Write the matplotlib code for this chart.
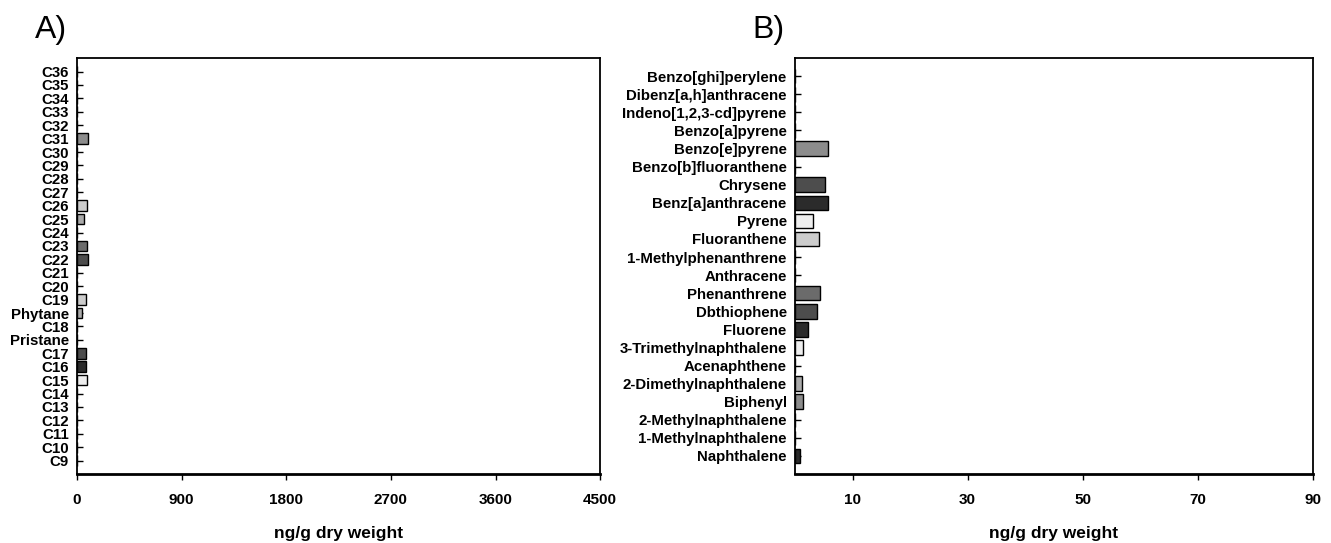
import numpy as np
import matplotlib.pyplot as plt

plt.rcParams['font.family'] = ['Liberation Sans', 'DejaVu Sans']

# A) aliphatic hydrocarbons, bottom to top
alkanes = ["C9", "C10", "C11", "C12", "C13", "C14", "C15", "C16", "C17",
           "Pristane", "C18", "Phytane", "C19", "C20", "C21", "C22", "C23",
           "C24", "C25", "C26", "C27", "C28", "C29", "C30", "C31", "C32",
           "C33", "C34", "C35", "C36"]
alkane_vals = [0, 0, 0, 0, 0, 0, 86, 75, 80,
               0, 0, 46, 75, 0, 0, 97, 86,
               0, 63, 86, 0, 0, 0, 0, 97, 0,
               0, 0, 0, 0]

# B) PAHs, bottom to top
pahs = ["Naphthalene", "1-Methylnaphthalene", "2-Methylnaphthalene",
        "Biphenyl", "2-Dimethylnaphthalene", "Acenaphthene",
        "3-Trimethylnaphthalene", "Fluorene", "Dbthiophene", "Phenanthrene",
        "Anthracene", "1-Methylphenanthrene", "Fluoranthene", "Pyrene",
        "Benz[a]anthracene", "Chrysene", "Benzo[b]fluoranthene",
        "Benzo[e]pyrene", "Benzo[a]pyrene", "Indeno[1,2,3-cd]pyrene",
        "Dibenz[a,h]anthracene", "Benzo[ghi]perylene"]
pah_vals = [0.8, 0, 0,
            1.4, 1.3, 0,
            1.45, 2.2, 3.8, 4.3,
            0, 0, 4.2, 3.2,
            5.8, 5.2, 0,
            5.8, 0, 0,
            0, 0]

# gray shades cycled over the bars
grays = ["#2b2b2b", "#4d4d4d", "#6b6b6b", "#8c8c8c", "#aaaaaa", "#cccccc", "#eeeeee"]

fig = plt.figure(figsize=(13.31, 5.43), dpi=100)
axA = fig.add_axes([0.0579, 0.127, 0.393, 0.766])
axB = fig.add_axes([0.5973, 0.127, 0.389, 0.766])


def draw_panel(ax, names, vals, xmax, xticks):
    y = np.arange(len(names))
    colors = [grays[i % len(grays)] for i in y]
    ax.set_axisbelow(True)  # bars cover the inward ticks
    ax.barh(y, vals, height=0.8, color=colors, edgecolor="black", linewidth=1.0)
    ax.set_yticks(y)
    ax.set_yticklabels(names, fontsize=10.8, fontweight="bold")
    ax.set_ylim(-1, len(names))
    ax.set_xlim(0, xmax)
    ax.set_xticks(xticks)
    ax.set_xticklabels([str(t) for t in xticks], fontsize=11, fontweight="bold")
    ax.tick_params(axis="y", direction="in", length=4, width=1.0, pad=6)
    ax.tick_params(axis="x", direction="out", length=4, width=1.0, pad=10)
    ax.set_xlabel("ng/g dry weight", fontsize=12.5, fontweight="bold", labelpad=13)
    for s in ax.spines.values():
        s.set_linewidth(1.3)
    ax.spines["bottom"].set_linewidth(2.0)


draw_panel(axA, alkanes, alkane_vals, 4500, [0, 900, 1800, 2700, 3600, 4500])
draw_panel(axB, pahs, pah_vals, 90, [10, 30, 50, 70, 90])

fig.text(0.026, 0.945, "A)", fontsize=23, ha="left", va="center")
fig.text(0.565, 0.945, "B)", fontsize=23, ha="left", va="center")

fig.savefig("out.png", dpi=100)
